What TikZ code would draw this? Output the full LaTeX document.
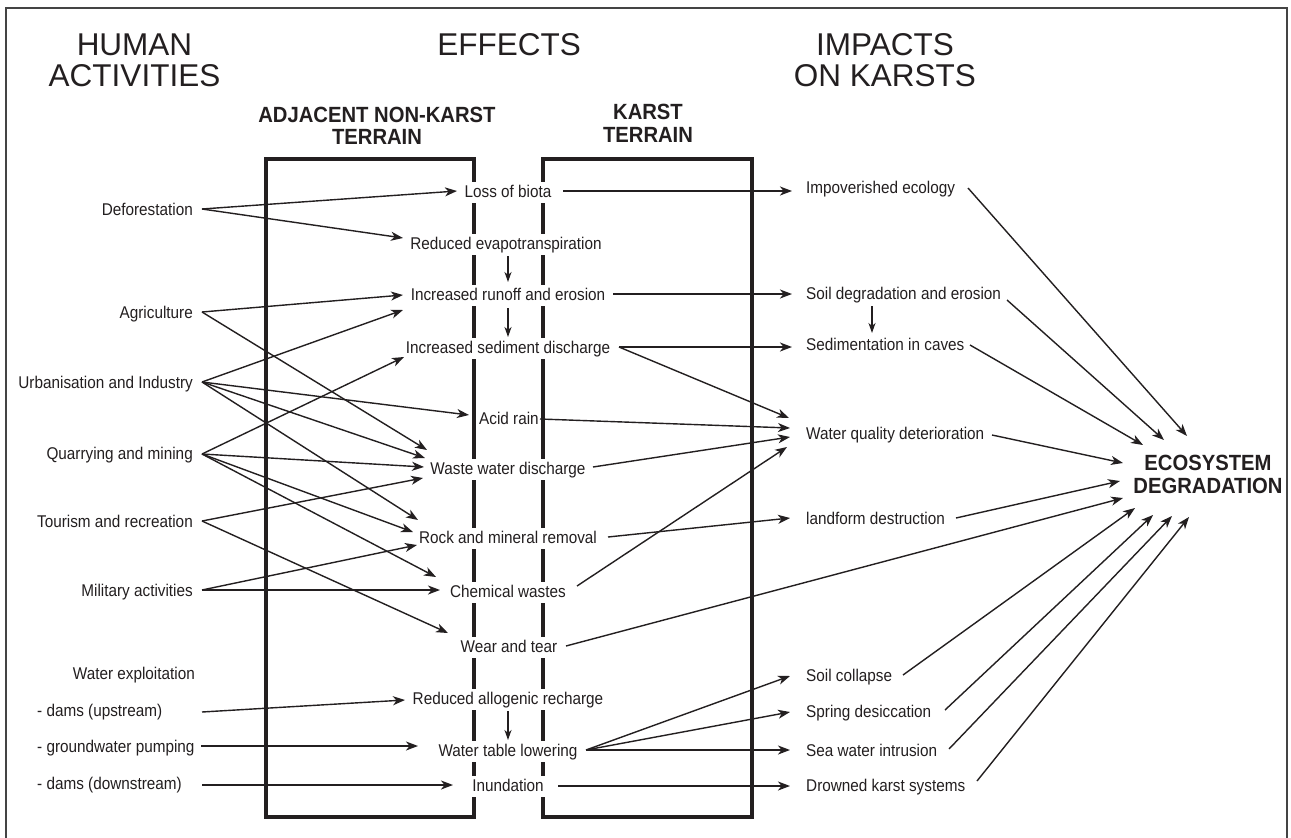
\documentclass[tikz,border=0pt]{standalone}
\usepackage{fontspec}
\setmainfont{Liberation Sans}
\newfontfamily\labfont[FakeStretch=0.9]{Liberation Sans}
\newfontfamily\bcfont[FakeStretch=0.92]{Liberation Sans}
\usetikzlibrary{arrows.meta,calc}
\definecolor{ink}{HTML}{231F20}
\definecolor{framegray}{HTML}{444444}
\begin{document}
\begin{tikzpicture}[x=1pt,y=-1pt,
  lab/.style={font=\labfont\fontsize{17}{20}\selectfont, inner sep=0pt, text=ink, text height=12.5pt, text depth=3.6pt},
  leftlab/.style={lab, anchor=base east},
  leftlabw/.style={lab, anchor=base west},
  midlab/.style={lab, anchor=base, fill=white, inner xsep=2pt, inner ysep=2.5pt},
  rightlab/.style={lab, anchor=base west},
  head/.style={font=\fontsize{31.5}{31}\selectfont, align=center, inner sep=0pt, text=ink, anchor=north},
  bhead/.style={font=\bcfont\bfseries\fontsize{22}{22.5}\selectfont, align=center, inner sep=0pt, text=ink, anchor=north},
  boxline/.style={draw=ink, line width=3.8pt, line join=miter},
  conn/.style={draw=ink, line width=1.4pt, -{Stealth[length=12pt,width=9pt,inset=3.5pt]}},
  sconn/.style={draw=ink, line width=1.4pt, -{Stealth[length=10pt,width=7pt,inset=3pt]}},
  frameline/.style={draw=framegray, line width=1.2pt}
]
\useasboundingbox (0,0) rectangle (1291,838);
\fill[white] (0,0) rectangle (1291,838);
\draw[frameline] (6,838) -- (6,8) -- (1287,8) -- (1287,838);

% terrain boxes
\draw[boxline] (266,159) rectangle (474,817);
\draw[boxline] (543,159) rectangle (752,817);

% headings
\node[head] (hhum) at (134.5,33.5) {HUMAN\\ACTIVITIES};
\node[head] (heff) at (509,33.5) {EFFECTS};
\node[head] (himp) at (885,33.5) {IMPACTS\\ON KARSTS};
\node[bhead] (hadj) at (377,106.5) {ADJACENT NON-KARST\\TERRAIN};
\node[bhead] (hkar) at (648,104) {KARST\\TERRAIN};

% human activities
\node[leftlab] (defo) at (193,215) {Deforestation};
\node[leftlab] (agri) at (193,318) {Agriculture};
\node[leftlab] (urb) at (193,388) {Urbanisation and Industry};
\node[leftlab] (quar) at (193,459) {Quarrying and mining};
\node[leftlab] (tour) at (193,527) {Tourism and recreation};
\node[leftlab] (mil) at (193,596) {Military activities};
\node[leftlab] (wexp) at (195,679) {Water exploitation};
\node[leftlabw] (dup) at (37,716) {- dams (upstream)};
\node[leftlabw] (gw) at (37,752) {- groundwater pumping};
\node[leftlabw] (ddown) at (37,789) {- dams (downstream)};

% effects
\node[midlab] (loss) at (508,197) {Loss of biota};
\node[midlab] (redevap) at (506,249) {Reduced evapotranspiration};
\node[midlab] (runoff) at (508,300) {Increased runoff and erosion};
\node[midlab] (sed) at (508,353) {Increased sediment discharge};
\node[midlab] (acid) at (509,424) {Acid rain};
\node[midlab] (waste) at (508,474) {Waste water discharge};
\node[midlab] (rock) at (508,543) {Rock and mineral removal};
\node[midlab] (chem) at (508,597) {Chemical wastes};
\node[midlab] (wear) at (509,652) {Wear and tear};
\node[midlab] (allog) at (508,704) {Reduced allogenic recharge};
\node[midlab] (wtl) at (508,756) {Water table lowering};
\node[midlab] (inund) at (508,791) {Inundation};

% impacts
\node[rightlab] (impov) at (806,193) {Impoverished ecology};
\node[rightlab] (soildeg) at (806,299) {Soil degradation and erosion};
\node[rightlab] (sedcav) at (806,350) {Sedimentation in caves};
\node[rightlab] (wq) at (806,439) {Water quality deterioration};
\node[rightlab] (landf) at (806,524) {landform destruction};
\node[rightlab] (scol) at (806,681) {Soil collapse};
\node[rightlab] (spring) at (806,717) {Spring desiccation};
\node[rightlab] (sea) at (806,756) {Sea water intrusion};
\node[rightlab] (drown) at (806,791) {Drowned karst systems};

\node[bhead] (eco) at (1208,455) {ECOSYSTEM\\DEGRADATION};

% activities -> effects
\draw[conn] ($(defo.base east)+(9,-6)$) -- ($(loss.base)+(-51,-6)$);
\draw[conn] ($(defo.base east)+(9,-6)$) -- ($(redevap.base)+(-103,-11)$);
\draw[conn] ($(agri.base east)+(9,-6)$) -- ($(runoff.base)+(-105,-5)$);
\draw[conn] ($(agri.base east)+(9,-6)$) -- ($(waste.base)+(-81,-24)$);
\draw[conn] ($(urb.base east)+(9,-6)$) -- ($(runoff.base)+(-105,10)$);
\draw[conn] ($(urb.base east)+(9,-6)$) -- ($(acid.base)+(-40,-9)$);
\draw[conn] ($(urb.base east)+(9,-6)$) -- ($(waste.base)+(-83,-16)$);
\draw[conn] ($(urb.base east)+(9,-6)$) -- ($(rock.base)+(-90,-23)$);
\draw[conn] ($(quar.base east)+(9,-5)$) -- ($(sed.base)+(-104,4)$);
\draw[conn] ($(quar.base east)+(9,-5)$) -- ($(waste.base)+(-84,-7)$);
\draw[conn] ($(quar.base east)+(9,-5)$) -- ($(rock.base)+(-95,-11)$);
\draw[conn] ($(quar.base east)+(9,-5)$) -- ($(chem.base)+(-72,-20)$);
\draw[conn] ($(tour.base east)+(9,-6)$) -- ($(waste.base)+(-85,4)$);
\draw[conn] ($(tour.base east)+(9,-6)$) -- ($(wear.base)+(-61,-19)$);
\draw[conn] ($(mil.base east)+(9,-6)$) -- ($(rock.base)+(-91,2)$);
\draw[conn] ($(mil.base east)+(9,-6)$) -- ($(chem.base)+(-68,-7)$);
\draw[conn] ($(dup.base west)+(165,-4)$) -- ($(allog.base)+(-103,-4)$);
\draw[conn] ($(gw.base west)+(164,-6)$) -- ($(wtl.base)+(-90,-10)$);
\draw[conn] ($(ddown.base west)+(165,-4)$) -- ($(inund.base)+(-55,-6)$);

% chains inside effects
\draw[sconn] ($(redevap.base)+(2,7)$) -- ($(runoff.base)+(0,-18)$);
\draw[sconn] ($(runoff.base)+(0,8)$) -- ($(sed.base)+(0,-16)$);
\draw[sconn] ($(allog.base)+(0,7)$) -- ($(wtl.base)+(0,-16)$);
\draw[sconn] ($(soildeg.base west)+(66,7)$) -- ($(sedcav.base west)+(66,-17)$);

% effects -> impacts
\draw[conn] ($(loss.base)+(55,-6)$) -- ($(impov.base west)+(-14,-2)$);
\draw[conn] ($(runoff.base)+(105,-6)$) -- ($(soildeg.base west)+(-14,-5)$);
\draw[conn] ($(sed.base)+(111,-6)$) -- ($(sedcav.base west)+(-14,-3)$);
\draw[conn] ($(sed.base)+(111,-6)$) -- ($(wq.base west)+(-17,-21)$);
\draw[conn] ($(acid.base)+(31,-5)$) -- ($(wq.base west)+(-16,-11)$);
\draw[conn] ($(waste.base)+(85,-7)$) -- ($(wq.base west)+(-16,-2)$);
\draw[conn] ($(chem.base)+(69,-11)$) -- ($(wq.base west)+(-19,8)$);
\draw[conn] ($(rock.base)+(100,-6)$) -- ($(landf.base west)+(-16,-6)$);
\draw[conn] ($(wtl.base)+(78,-6)$) -- ($(scol.base west)+(-16,-5)$);
\draw[conn] ($(wtl.base)+(78,-6)$) -- ($(spring.base west)+(-16,-5)$);
\draw[conn] ($(wtl.base)+(78,-6)$) -- ($(sea.base west)+(-16,-6)$);
\draw[conn] ($(inund.base)+(50,-5)$) -- ($(drown.base west)+(-16,-5)$);
\draw[conn] ($(wear.base)+(57,-6)$) -- ($(eco.north)+(-85,43)$);

% impacts -> ecosystem degradation
\draw[conn] ($(impov.base west)+(162,-5)$) -- ($(eco.north)+(-21,-19)$);
\draw[conn] ($(soildeg.base west)+(201,1)$) -- ($(eco.north)+(-44,-15)$);
\draw[conn] ($(sedcav.base west)+(164,-5)$) -- ($(eco.north)+(-65,-10)$);
\draw[conn] ($(wq.base west)+(186,-4)$) -- ($(eco.north)+(-85,8)$);
\draw[conn] ($(landf.base west)+(150,-6)$) -- ($(eco.north)+(-88,26)$);
\draw[conn] ($(scol.base west)+(97,-6)$) -- ($(eco.north)+(-73,53)$);
\draw[conn] ($(spring.base west)+(139,-7)$) -- ($(eco.north)+(-55,60)$);
\draw[conn] ($(sea.base west)+(143,-7)$) -- ($(eco.north)+(-36,61)$);
\draw[conn] ($(drown.base west)+(171,-10)$) -- ($(eco.north)+(-19,62)$);
\end{tikzpicture}
\end{document}
